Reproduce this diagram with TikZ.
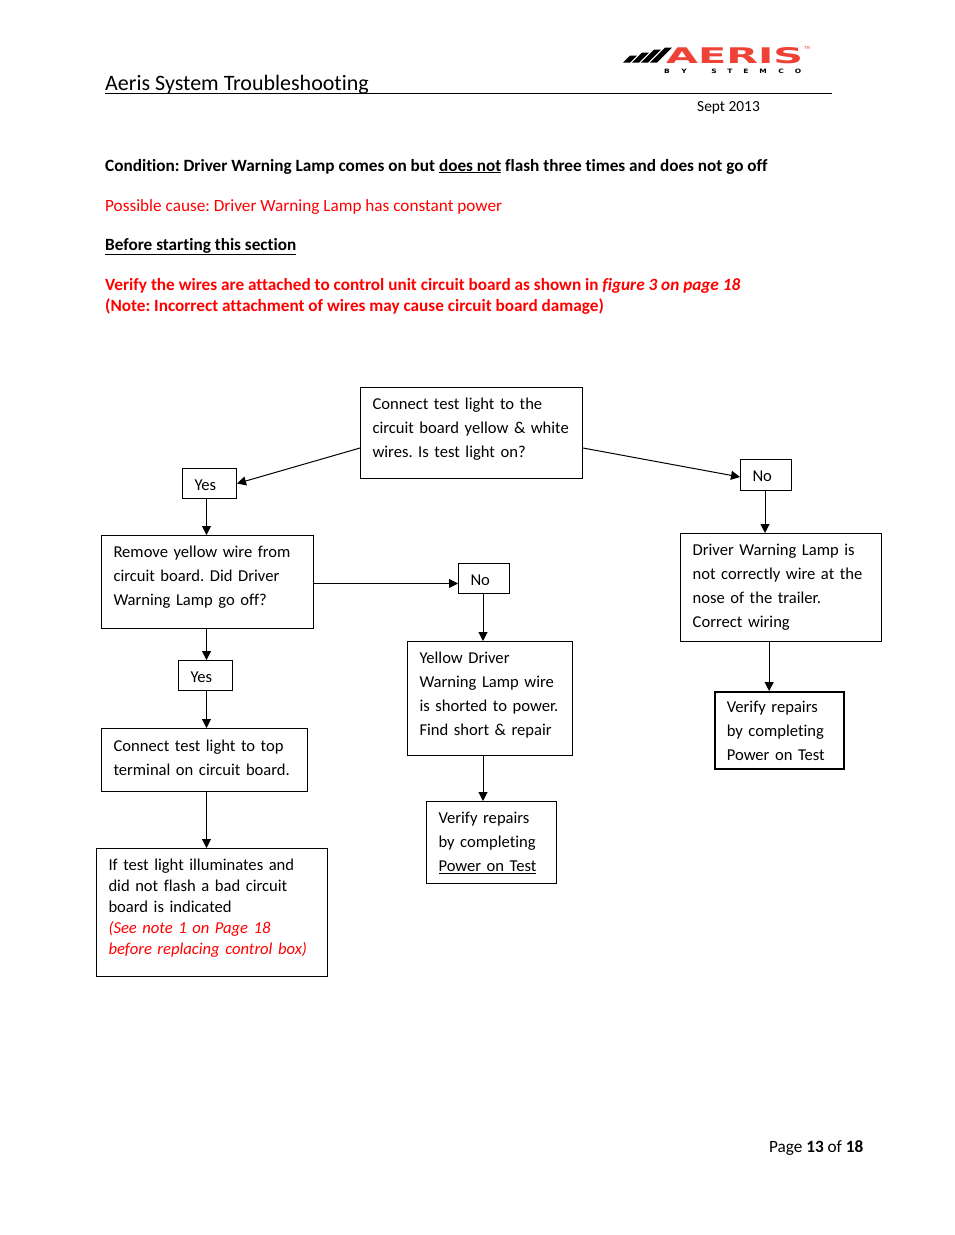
\documentclass[tikz,border=0pt]{standalone}
\usepackage{fontspec}
\usepackage{graphicx}
\setmainfont[Ligatures={NoCommon}]{Carlito}
\newfontfamily\logofont{DejaVu Sans}
\usetikzlibrary{arrows.meta,positioning,calc}
\definecolor{logored}{HTML}{EF4136}
\tikzset{
    flowbox/.style={draw, line width=1pt, anchor=north west, align=left, inner xsep=12pt, inner ysep=0pt, font=\fontsize{16.6}{24}\selectfont},
    flowarrow/.style={line width=1pt, -{Triangle[length=9pt,width=9pt]}},
    pagetext/.style={anchor=base west, inner sep=0pt, font=\fontsize{17.2}{20}\selectfont}
}
\begin{document}
\frenchspacing
\begin{tikzpicture}[x=1pt,y=-1pt]
    \useasboundingbox (0,0) rectangle (954,1235);
    \fill[white] (0,0) rectangle (954,1235);

    % Header
    \node[pagetext, font=\fontsize{22}{24}\selectfont] (title) at (105,90) {Aeris System Troubleshooting};
    \draw[line width=0.9pt] (105,93.5) -- (832,93.5);
    \node[pagetext, font=\fontsize{15.4}{18}\selectfont] (date) at (697,111) {Sept 2013};

    % Logo
    \foreach \x/\h in {0/7, 9/10, 18/13, 27/15} {
        \fill (623+\x,62.5) -- (630+\x,62.5) -- (630+\x+\h,62.5-\h) -- (623+\x+\h,62.5-\h) -- cycle;
    }
    \node[anchor=north west, inner sep=0pt, text=logored] (logo) at (666,47) {\resizebox{137pt}{16pt}{\logofont\bfseries AERIS}};
    \node[anchor=base west, inner sep=0pt, text=logored, font=\logofont\fontsize{4}{4}\selectfont] (tm) at (804,49.5) {TM};
    \foreach \x/\c in {667/B, 684/Y, 714/S, 730/T, 746/E, 763/M, 781/C, 798/O} {
        \node[inner sep=0pt, font=\logofont\bfseries\fontsize{6}{7}\selectfont] (stemco\c) at (\x,71.5) {\scalebox{1.25}[1]{\c}};
    }

    % Condition text
    \node[pagetext] (cond) at (105,171) {\bfseries Condition: Driver Warning Lamp comes on but \underline{does not} flash three times and does not go off};
    \node[pagetext, text=red] (cause) at (105,211) {Possible cause: Driver Warning Lamp has constant power};
    \node[pagetext] (before) at (105,250) {\bfseries\underline{Before starting this section}};
    \node[pagetext, text=red] (verify) at (105,290) {\bfseries Verify the wires are attached to control unit circuit board as shown in \itshape figure 3 on page 18};
    \node[pagetext, text=red] (incorrect) at (105,311) {\bfseries (Note: Incorrect attachment of wires may cause circuit board damage)};

    % Boxes
    \node[flowbox, text width=198pt, text height=22pt, text depth=69pt] (start) at (360,387)
        {Connect test light to the\\circuit board yellow \& white\\wires. Is test light on?};
    \node[flowbox, text width=30pt, text height=22pt, text depth=8pt] (yes1) at (182,468) {Yes};
    \node[flowbox, text width=27pt, text height=22pt, text depth=9pt] (no1) at (740,459) {No};
    \node[flowbox, text width=188pt, text height=22pt, text depth=71pt] (remove) at (101,535)
        {Remove yellow wire from\\circuit board. Did Driver\\Warning Lamp go off?};
    \node[flowbox, text width=27pt, text height=22pt, text depth=8pt] (no2) at (458,563) {No};
    \node[flowbox, text width=30pt, text height=22pt, text depth=8pt] (yes2) at (178,660) {Yes};
    \node[flowbox, text width=182pt, text height=23pt, text depth=40pt] (connect) at (101,728)
        {Connect test light to top\\terminal on circuit board.};
    \node[flowbox, text width=141pt, text height=22pt, text depth=92pt] (shorted) at (407,641)
        {Yellow Driver\\Warning Lamp wire\\is shorted to power.\\Find short \& repair};
    \node[flowbox, text width=106pt, text height=22pt, text depth=60pt] (verifytwo) at (426,801)
        {Verify repairs\\by completing\\\underline{Power on Test}};
    \node[flowbox, line width=1.3pt, text width=177pt, text height=22pt, text depth=86pt] (wiring) at (680,533)
        {Driver Warning Lamp is\\not correctly wire at the\\nose of the trailer.\\Correct wiring};
    \node[flowbox, line width=1.6pt, text width=105pt, text height=21pt, text depth=56pt] (verifyone) at (714,691)
        {Verify repairs\\by completing\\Power on Test};
    \node[flowbox, font=\fontsize{16.6}{21}\selectfont, text width=207pt, text height=22pt, text depth=106pt] (note) at (96,848)
        {If test light illuminates and\\did not flash a bad circuit\\board is indicated\\\textcolor{red}{\itshape (See note 1 on Page 18}\\\textcolor{red}{\itshape before replacing control box)}};

    % Connectors
    \coordinate (leftcol) at ([xshift=-1pt]remove.south);
    \coordinate (midcol) at ([xshift=-1pt]no2.south);
    \coordinate (rightcol) at ([xshift=-1pt]no1.south);
    \coordinate (wirecol) at ([xshift=-12pt]wiring.south);
    \draw[flowarrow] ([yshift=-15pt]start.west) -- (yes1.east);
    \draw[flowarrow] ([yshift=-15pt]start.east) -- ([yshift=-2pt]no1.west);
    \draw[flowarrow] (leftcol |- yes1.south) -- (leftcol |- remove.north);
    \draw[flowarrow] (leftcol) -- (leftcol |- yes2.north);
    \draw[flowarrow] (leftcol |- yes2.south) -- (leftcol |- connect.north);
    \draw[flowarrow] (leftcol |- connect.south) -- (leftcol |- note.north);
    \draw[flowarrow, line width=0.8pt] ([yshift=-1.5pt]remove.east) -- ([yshift=-1.5pt]remove.east -| no2.west);
    \draw[flowarrow] (midcol) -- (midcol |- shorted.north);
    \draw[flowarrow] (midcol |- shorted.south) -- (midcol |- verifytwo.north);
    \draw[flowarrow] (rightcol) -- (rightcol |- wiring.north);
    \draw[flowarrow] (wirecol) -- (wirecol |- verifyone.north);

    % Footer
    \node[pagetext] (footer) at (769,1152) {Page \textbf{13} of \textbf{18}};
\end{tikzpicture}
\end{document}
